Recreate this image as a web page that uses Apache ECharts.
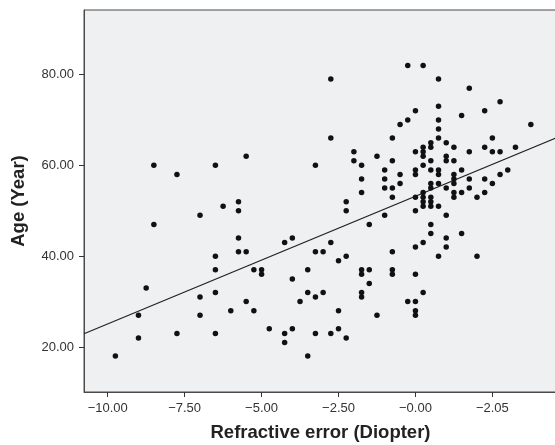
<!DOCTYPE html>
<html>
<head>
<meta charset="utf-8">
<script src="https://cdn.jsdelivr.net/npm/echarts@6/dist/echarts.min.js"></script>
<style>
html,body{margin:0;padding:0;background:#fff;}
#chart{width:555px;height:445px;}
</style>
</head>
<body>
<div id="chart"></div>
<script>
// Refractive error (Diopter) values
const refractiveError = [
  -9.75,-9.0,-9.0,-8.75,-8.5,-8.5,-7.75,-7.75,-7.0,-7.0,-7.0,
  -6.5,-6.5,-6.5,-6.5,-6.5,-6.25,-6.0,-5.75,-5.75,-5.75,-5.75,
  -5.5,-5.5,-5.5,-5.25,-5.25,-5.0,-5.0,-4.75,
  -4.25,-4.0,-4.0,-4.25,-4.25,-4.0,-3.75,-3.5,-3.5,-3.5,
  -3.25,-3.25,-3.25,-3.0,-3.0,-2.75,-2.75,-2.5,-2.5,-2.5,-2.25,-2.25,
  -1.75,-1.75,-1.75,-1.75,-1.5,-1.5,-1.25,-0.75,-0.75,-0.75,-0.25,
  0,0,0,0,0,0.25,0.25,0.5,0.75,1.0,1.0,1.5,2.0,
  -1.5,0.5,
  -3.25,-2.75,-2.75,-2.25,-2.25,-2.0,-2.0,-1.75,-1.75,-1.75,-1.25,
  -1.0,-1.0,-1.0,-1.0,-0.75,-0.75,-0.75,-0.75,-0.5,-0.5,-0.5,-0.25,-0.25,
  0,0,0,0,0,0,
  0.25,0.25,0.25,0.25,0.25,0.25,0.25,0.25,0.25,
  0.5,0.5,0.5,0.5,0.5,0.5,0.5,0.5,0.5,
  0.75,0.75,0.75,0.75,0.75,0.75,0.75,0.75,0.75,
  1.0,1.0,1.0,1.0,1.0,
  1.25,1.25,1.25,1.25,1.25,1.25,1.25,
  1.5,1.5,1.5,
  1.75,1.75,1.75,1.75,
  2.0,
  2.25,2.25,2.25,2.25,
  2.5,2.5,2.5,
  2.75,2.75,2.75,
  3.0,3.25,3.75
];
// Age (Year) values, same order
const ageYears = [
  18,27,22,33,60,47,58,23,49,31,27,
  60,40,37,32,23,51,28,52,50,44,41,
  62,41,30,37,28,37,36,24,
  43,44,35,23,21,24,30,37,32,18,
  41,31,23,41,32,43,23,39,28,24,40,22,
  37,36,32,31,37,34,27,41,37,36,30,
  42,36,30,28,27,43,32,45,40,44,42,45,40,
  47,47,
  60,79,66,52,50,63,61,60,57,54,62,
  59,57,55,49,66,61,55,53,69,58,56,82,70,
  72,63,59,58,53,50,
  82,64,63,62,60,54,53,52,51,
  65,64,61,59,56,55,53,52,51,
  79,73,70,68,66,59,58,56,51,
  65,62,61,55,49,
  64,61,58,57,56,54,53,
  71,59,54,
  77,63,57,55,
  53,
  72,64,57,54,
  66,63,56,
  74,63,58,
  59,64,69
];
// Axis ticks and their printed labels
const xTickValues = [-10, -7.5, -5, -2.5, 0, 2.5];
const xTickLabels = ['\u221210.00', '\u22127.50', '\u22125.00', '\u22122.50', '\u22120.00', '\u22122.05'];
const yTickValues = [20, 40, 60, 80];
const yTickLabels = ['20.00', '40.00', '60.00', '80.00'];
// Axis ranges
const xRange = [-10.77, 4.6];
const yRange = [10.1, 94.2];
// Fit line: age = intercept + slope * refraction
const fitIntercept = 53.2;
const fitSlope = 2.81;

const points = refractiveError.map((x, i) => [x, ageYears[i]]);
const fitLine = [xRange[0], xRange[1]].map(x => [x, fitIntercept + fitSlope * x]);

const chart = echarts.init(document.getElementById('chart'), null, {renderer: 'canvas'});
const font = '"Liberation Sans", Arial, Helvetica, sans-serif';
chart.setOption({
  animation: false,
  backgroundColor: '#ffffff',
  grid: {
    left: 84, top: 10, width: 473, height: 382,
    outerBoundsMode: 'none', containLabel: false,
    show: true, backgroundColor: '#eff0f2', borderColor: '#4a4a4a', borderWidth: 1
  },
  xAxis: {
    type: 'value', min: xRange[0], max: xRange[1],
    name: 'Refractive error (Diopter)', nameLocation: 'middle', nameGap: 31,
    nameTextStyle: {fontFamily: font, fontSize: 18.5, fontWeight: 'bold', color: '#222'},
    axisLine: {show: true, onZero: false, lineStyle: {color: '#4a4a4a', width: 1}},
    axisTick: {show: true, length: 5, customValues: xTickValues, lineStyle: {color: '#333'}},
    axisLabel: {
      customValues: xTickValues, margin: 10, fontFamily: font, fontSize: 13, color: '#333',
      formatter: v => { const i = xTickValues.findIndex(t => Math.abs(t - v) < 1e-6); return i >= 0 ? xTickLabels[i] : ''; }
    },
    splitLine: {show: false}
  },
  yAxis: {
    type: 'value', min: yRange[0], max: yRange[1],
    name: 'Age (Year)', nameLocation: 'middle', nameGap: 56, nameRotate: 90,
    nameTextStyle: {fontFamily: font, fontSize: 18.5, fontWeight: 'bold', color: '#222'},
    axisLine: {show: true, onZero: false, lineStyle: {color: '#4a4a4a', width: 1}},
    axisTick: {show: true, length: 5, customValues: yTickValues, lineStyle: {color: '#333'}},
    axisLabel: {
      customValues: yTickValues, margin: 10, fontFamily: font, fontSize: 13, color: '#333',
      formatter: v => { const i = yTickValues.findIndex(t => Math.abs(t - v) < 1e-6); return i >= 0 ? yTickLabels[i] : ''; }
    },
    splitLine: {show: false}
  },
  series: [
    {
      type: 'line', data: fitLine, symbol: 'none', clip: true, silent: true,
      lineStyle: {color: '#222', width: 1.2}, z: 1
    },
    {
      type: 'scatter', data: points, symbol: 'circle', symbolSize: 5.5,
      itemStyle: {color: '#111', opacity: 1}, z: 2
    }
  ]
});
</script>
</body>
</html>
